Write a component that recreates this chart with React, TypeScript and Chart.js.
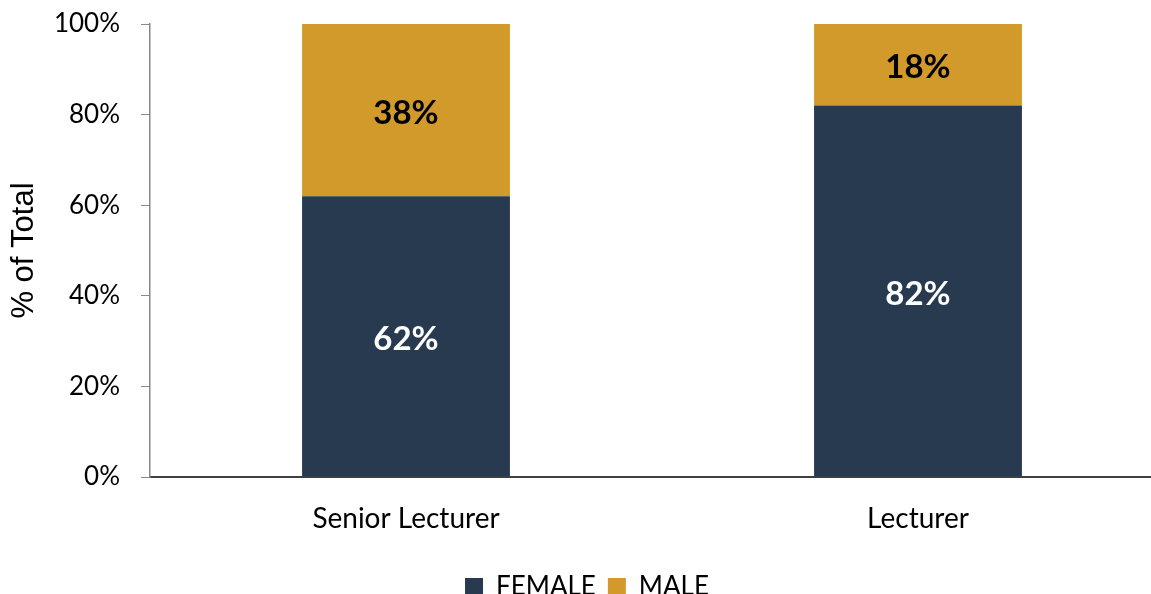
import React, { useEffect, useRef } from "react";
import { Chart, registerables } from "chart.js";

Chart.register(...registerables);

const categories = ["Senior Lecturer", "Lecturer"];
const femaleValues = [62, 82];
const maleValues = [38, 18];
const yTicks = [0, 20, 40, 60, 80, 100];
const seriesNames = ["FEMALE", "MALE"];

const FEMALE_COLOR = "#283A50";
const MALE_COLOR = "#D29A2A";
const CALIBRI = "Lato, 'Open Sans', sans-serif";

const W = 1178;
const H = 610;

const labelPlugin = {
  id: "segLabels",
  afterDatasetsDraw(chart: any) {
    const ctx = chart.ctx;
    chart.data.datasets.forEach((ds: any, di: number) => {
      const meta = chart.getDatasetMeta(di);
      meta.data.forEach((bar: any, i: number) => {
        const v = ds.data[i];
        const cy = (bar.y + bar.base) / 2;
        ctx.save();
        ctx.font = `bold 33px ${CALIBRI}`;
        ctx.textAlign = "center";
        ctx.textBaseline = "middle";
        ctx.fillStyle = di === 0 ? "#FFFFFF" : "#000000";
        ctx.fillText(`${v}%`, bar.x, cy + 3);
        ctx.restore();
      });
    });
  },
};

export default function App() {
  const ref = useRef<HTMLCanvasElement | null>(null);
  useEffect(() => {
    if (!ref.current) return;
    const chart = new Chart(ref.current, {
      type: "bar",
      data: {
        labels: categories,
        datasets: [
          { label: seriesNames[0], data: femaleValues, backgroundColor: FEMALE_COLOR },
          { label: seriesNames[1], data: maleValues, backgroundColor: MALE_COLOR },
        ],
      },
      options: {
        responsive: false,
        animation: false,
        layout: { padding: { top: 24, right: 4, left: 0, bottom: 0 } },
        datasets: { bar: { barPercentage: 0.406, categoryPercentage: 1 } },
        plugins: {
          legend: {
            position: "bottom",
            labels: {
              boxWidth: 18,
              boxHeight: 18,
              padding: 12,
              color: "#000",
              font: { family: CALIBRI, size: 26 },
            },
          },
          tooltip: { enabled: false },
        },
        scales: {
          x: {
            stacked: true,
            grid: { display: false, drawTicks: false },
            border: { display: true, color: "#404040", width: 2 },
            ticks: { color: "#000", font: { family: CALIBRI, size: 28 }, padding: 25 },
            afterFit: (s: any) => {
              s.height = 85;
              s.paddingLeft = 0;
              s.paddingRight = 0;
            },
          },
          y: {
            stacked: true,
            min: 0,
            max: 100,
            afterBuildTicks: (s: any) => {
              s.ticks = yTicks.map((v) => ({ value: v }));
            },
            grid: { drawOnChartArea: false, drawTicks: true, tickLength: 9, color: "#888" },
            border: { display: true, color: "#888", width: 1.5 },
            ticks: {
              color: "#000",
              font: { family: CALIBRI, size: 26 },
              padding: 21,
              callback: (v: any) => `${v}%`,
            },
            title: {
              display: true,
              text: "% of Total",
              color: "#000",
              font: { family: "'Liberation Sans', Arial, sans-serif", size: 31 },
              padding: { top: 6, bottom: 0 },
            },
            afterFit: (s: any) => {
              s.width = 150;
              s.paddingTop = 0;
              s.paddingBottom = 0;
            },
          },
        },
      },
      plugins: [labelPlugin],
    });
    return () => chart.destroy();
  }, []);
  return (
    <div style={{ position: "fixed", left: 0, top: 0, width: 1151, height: 594, overflow: "hidden", background: "#fff" }}>
      <canvas ref={ref} width={W} height={H} style={{ display: "block" }} />
    </div>
  );
}
